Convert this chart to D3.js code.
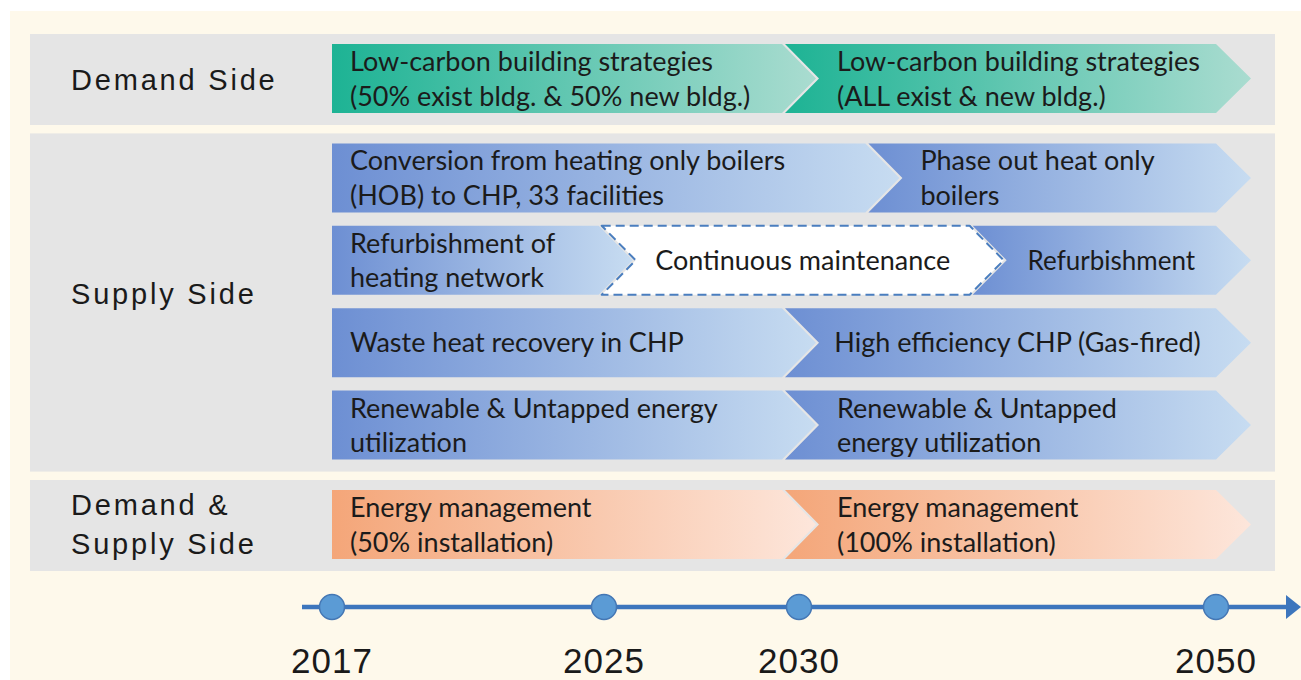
<!DOCTYPE html>
<html>
<head>
<meta charset="utf-8">
<script src="https://cdn.jsdelivr.net/npm/d3@7"></script>
<style>
  body { margin: 0; background: #fff; }
  svg { display: block; }
</style>
</head>
<body>
<div id="roadmap"></div>
<script>
//~~~~~~~~~~~~~~~~~~~~~~~~~~~~~~~~~~~~
// Data
//~~~~~~~~~~~~~~~~~~~~~~~~~~~~~~~~~~~~
const years = [2017, 2025, 2030, 2050];

const groupLines = [
    ["Demand Side"],
    ["Supply Side"],
    ["Demand &", "Supply Side"]
];

// which group each row of arrows belongs to
const rowGroup = [0, 1, 1, 1, 1, 2];

const phases = [
    {row: 0, from: 2017, to: 2030, kind: "teal", lines: ["Low-carbon building strategies", "(50% exist bldg. & 50% new bldg.)"]},
    {row: 0, from: 2030, to: 2050, kind: "teal", lines: ["Low-carbon building strategies", "(ALL exist & new bldg.)"]},
    {row: 1, from: 2017, to: 2034, kind: "blue", lines: ["Conversion from heating only boilers", "(HOB) to CHP, 33 facilities"]},
    {row: 1, from: 2034, to: 2050, kind: "blue", lines: ["Phase out heat only", "boilers"]},
    {row: 2, from: 2017, to: 2025.3, kind: "blue", lines: ["Refurbishment of", "heating network"]},
    {row: 2, from: 2025.3, to: 2039, kind: "dashed", lines: ["Continuous maintenance"]},
    {row: 2, from: 2039, to: 2050, kind: "blue", lines: ["Refurbishment"]},
    {row: 3, from: 2017, to: 2030, kind: "blue", lines: ["Waste heat recovery in CHP"]},
    {row: 3, from: 2030, to: 2050, kind: "blue", lines: ["High efficiency CHP (Gas-fired)"]},
    {row: 4, from: 2017, to: 2030, kind: "blue", lines: ["Renewable & Untapped energy", "utilization"]},
    {row: 4, from: 2030, to: 2050, kind: "blue", lines: ["Renewable & Untapped", "energy utilization"]},
    {row: 5, from: 2017, to: 2030, kind: "orange", lines: ["Energy management", "(50% installation)"]},
    {row: 5, from: 2030, to: 2050, kind: "orange", lines: ["Energy management", "(100% installation)"]}
];

//~~~~~~~~~~~~~~~~~~~~~~~~~~~~~~~~~~~~
// Layout
//~~~~~~~~~~~~~~~~~~~~~~~~~~~~~~~~~~~~
const width = 1301;
const height = 680;
const rowH = 69;
const half = 17;      // half width of a chevron joint
const gap = 3;
const textFont = "Lato, 'Open Sans', sans-serif";
const textSize = 27;

const gradients = {
    teal: ["#1db394", "#aadcd0"],
    blue: ["#6d8fd3", "#c7dcf1"],
    orange: ["#f4a679", "#fde6db"]
};
// label baselines measured from the top of each grey band, and line step
const labelDy = [56, 171, 35];
const labelStep = 39;

// years are not evenly spaced on the timeline
const x = d3.scaleLinear()
    .domain(years)
    .range([332, 604, 799, 1216]);

const rowTop = i => 44 + i * 82.4 + rowGroup[i] * 17;

const svg = d3.select("#roadmap")
    .append("svg")
    .attr("width", width)
    .attr("height", height);

const defs = svg.append("defs");
Object.entries(gradients).forEach(([k, c]) => {
    const g = defs.append("linearGradient")
        .attr("id", "grad-" + k)
        .attr("x1", 0).attr("x2", 1).attr("y1", 0).attr("y2", 0);
    g.append("stop").attr("offset", 0).attr("stop-color", c[0]);
    g.append("stop").attr("offset", 1).attr("stop-color", c[1]);
});

// cream panel
svg.append("rect")
    .attr("x", 10).attr("y", 11)
    .attr("width", width - 10).attr("height", height - 11)
    .attr("fill", "#fef9eb");

//~~~~~~~~~~~~~~~~~~~~~~~~~~~~~~~~~~~~
// Grey bands + group labels
//~~~~~~~~~~~~~~~~~~~~~~~~~~~~~~~~~~~~
const bands = groupLines.map((lines, gi) => {
    const rows = rowGroup.map((g, i) => g === gi ? i : null).filter(i => i !== null);
    const top = rowTop(rows[0]) - 10;
    const bottom = rowTop(rows[rows.length - 1]) + rowH + 12;
    return {gi, lines, top, bottom};
});

svg.append("g")
    .selectAll("rect")
    .data(bands)
    .join("rect")
    .attr("x", 30)
    .attr("y", d => d.top)
    .attr("width", 1245)
    .attr("height", d => d.bottom - d.top)
    .attr("fill", "#e5e5e5");

const labels = svg.append("g")
    .selectAll("text")
    .data(bands)
    .join("text")
    .attr("font-family", "'Liberation Sans', Arial, sans-serif")
    .attr("font-size", 29)
    .attr("letter-spacing", 2.8)
    .attr("fill", "#1a1a1a");

labels.selectAll("tspan")
    .data(d => d.lines.map((t, i) => ({t, i, d})))
    .join("tspan")
    .attr("x", 71)
    .attr("y", l => l.d.top + labelDy[l.d.gi] + l.i * labelStep)
    .text(l => l.t);

//~~~~~~~~~~~~~~~~~~~~~~~~~~~~~~~~~~~~
// Arrows
//~~~~~~~~~~~~~~~~~~~~~~~~~~~~~~~~~~~~
function arrowGeom(p) {
    const first = p.from === years[0];
    const last = p.to === years[years.length - 1];
    const top = rowTop(p.row);
    const bot = top + rowH;
    const mid = top + rowH / 2;
    const left = first ? x(p.from) : x(p.from) - half + gap;
    const notch = first ? left : x(p.from) + half + gap;
    const right = last ? x(p.to) : x(p.to) - half;
    const tip = last ? x(p.to) + 35 : x(p.to) + half;
    const pts = [[left, top], [right, top], [tip, mid], [right, bot], [left, bot]];
    if (!first) pts.push([notch, mid]);
    return {first, last, top, bot, mid, left, notch, right, tip, pts};
}

const arrows = svg.append("g")
    .selectAll("g")
    .data(phases)
    .join("g");

arrows.append("path")
    .attr("d", p => "M" + arrowGeom(p).pts.join("L") + "Z")
    .attr("fill", p => p.kind === "dashed" ? "#fff" : `url(#grad-${p.kind})`)
    .attr("stroke", p => p.kind === "dashed" ? "#4a7ebf" : "none")
    .attr("stroke-width", 2)
    .attr("stroke-dasharray", p => p.kind === "dashed" ? "9 5" : null)
    .attr("stroke-linejoin", "round");

const arrowText = arrows.append("text")
    .attr("font-family", textFont)
    .attr("font-size", p => p.lines.length === 1 && p.lines[0].length < 15 ? textSize - 1 : textSize)
    .attr("fill", "#1b1b1b")
    .attr("text-anchor", p => (!arrowGeom(p).first && p.lines.length === 1) ? "middle" : "start");

arrowText.selectAll("tspan")
    .data(p => {
        const g = arrowGeom(p);
        const centered = !g.first && p.lines.length === 1;
        const tx = centered ? (g.notch + g.right) / 2 : g.notch + 18;
        return p.lines.map((t, i) => ({
            t,
            x: tx,
            y: p.lines.length === 1 ? g.mid + 9.5 : g.top + 27 + i * 34.5
        }));
    })
    .join("tspan")
    .attr("x", d => d.x)
    .attr("y", d => d.y)
    .text(d => d.t);

//~~~~~~~~~~~~~~~~~~~~~~~~~~~~~~~~~~~~
// Timeline
//~~~~~~~~~~~~~~~~~~~~~~~~~~~~~~~~~~~~
const lineY = 607;
const timeline = svg.append("g");

timeline.append("line")
    .attr("x1", 302).attr("x2", 1290)
    .attr("y1", lineY).attr("y2", lineY)
    .attr("stroke", "#3d76bd")
    .attr("stroke-width", 4.5);

timeline.append("path")
    .attr("d", `M1286,${lineY - 12}L1301,${lineY}L1286,${lineY + 12}Z`)
    .attr("fill", "#3d76bd");

timeline.selectAll("circle")
    .data(years)
    .join("circle")
    .attr("cx", d => x(d))
    .attr("cy", lineY)
    .attr("r", 12.5)
    .attr("fill", "#5b9bd5")
    .attr("stroke", "#4477b4")
    .attr("stroke-width", 1.5);

timeline.selectAll("text")
    .data(years)
    .join("text")
    .attr("x", d => x(d))
    .attr("y", 673)
    .attr("text-anchor", "middle")
    .attr("font-family", "'Liberation Sans', Arial, sans-serif")
    .attr("font-size", 35)
    .attr("letter-spacing", 1)
    .attr("fill", "#1a1a1a")
    .text(d => d);
</script>
</body>
</html>
